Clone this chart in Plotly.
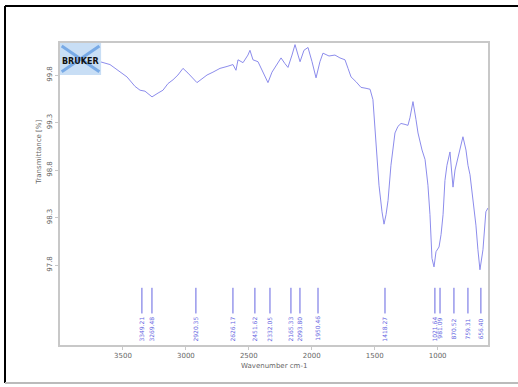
import plotly.graph_objects as go

# IR spectrum (wavenumber in cm-1, transmittance in %)
wavenumber = [3984, 3921, 3801, 3682, 3603, 3539, 3468, 3404, 3364, 3325,
              3269, 3221, 3182, 3142, 3102, 3063, 3023, 2983, 2943, 2912,
              2872, 2832, 2785, 2729, 2673, 2626, 2602, 2586, 2546, 2507,
              2491, 2467, 2427, 2387, 2348, 2316, 2292, 2268, 2244, 2213,
              2189, 2157, 2133, 2109, 2093, 2062, 2030, 1998, 1966, 1935,
              1911, 1863, 1816, 1776, 1736, 1712, 1688, 1649, 1609, 1569,
              1537, 1514, 1490, 1466, 1442, 1426, 1410, 1394, 1371, 1339,
              1315, 1291, 1259, 1236, 1220, 1196, 1172, 1156, 1124, 1100,
              1077, 1061, 1045, 1029, 1013, 989, 973, 957, 942, 926,
              902, 878, 862, 838, 815, 799, 775, 759, 743, 719,
              696, 680, 664, 640, 617, 600]
transmittance = [99.99, 99.99, 99.96, 99.94, 99.91, 99.85, 99.78, 99.68, 99.64, 99.63,
                 99.57, 99.61, 99.64, 99.71, 99.75, 99.80, 99.87, 99.82, 99.76, 99.72,
                 99.76, 99.80, 99.83, 99.87, 99.89, 99.91, 99.85, 99.96, 99.93, 100.01,
                 100.06, 99.96, 99.94, 99.83, 99.72, 99.83, 99.88, 99.94, 99.98, 99.92,
                 99.88, 100.01, 100.12, 100.01, 99.94, 100.06, 100.09, 99.94, 99.77, 99.94,
                 100.03, 100.00, 100.01, 99.98, 99.96, 99.87, 99.78, 99.73, 99.67, 99.66,
                 99.65, 99.54, 99.12, 98.64, 98.36, 98.23, 98.33, 98.48, 98.85, 99.19,
                 99.26, 99.29, 99.28, 99.27, 99.35, 99.52, 99.33, 99.19, 99.01, 98.91,
                 98.64, 98.33, 97.87, 97.78, 97.94, 97.99, 98.12, 98.33, 98.69, 98.85,
                 98.99, 98.62, 98.80, 98.94, 99.06, 99.15, 99.01, 98.85, 98.75, 98.48,
                 98.22, 97.96, 97.75, 97.96, 98.36, 98.40]

# Picked peak positions (cm-1)
peaks = [3349.21, 3269.48, 2920.35, 2626.17, 2451.62, 2332.05, 2165.33, 2093.80,
         1950.46, 1418.27, 1021.64, 981.09, 870.52, 759.31, 656.40]

x_ticks = [3500, 3000, 2500, 2000, 1500, 1000]
y_ticks = [99.8, 99.3, 98.8, 98.3, 97.8]
y_tick_labels = ["99.8", "99.3", "98.8", "98.3", "97.8"]

x_range = [4000, 600]
y_range = [96.958, 100.137]

line_color = "rgb(140,140,236)"
peak_color = "rgb(100,100,225)"
axis_color = "#c8c8c8"
text_color = "#666666"

fig = go.Figure()
fig.add_trace(go.Scatter(x=wavenumber, y=transmittance, mode="lines",
                         line=dict(color=line_color, width=1),
                         hoverinfo="skip", showlegend=False))

# Peak marker lines and their labels
peak_top, peak_bottom, label_y = 97.56, 97.29, 97.13
for p in peaks:
    fig.add_shape(type="line", xref="x", yref="y", x0=p, x1=p,
                  y0=peak_bottom, y1=peak_top,
                  line=dict(color=peak_color, width=1))
    fig.add_annotation(x=p, y=label_y, xref="x", yref="y", text=f"{p:.2f}",
                       showarrow=False, textangle=-90,
                       font=dict(size=6, color=peak_color, family="DejaVu Sans"))

# BRUKER logo block
fig.add_shape(type="rect", xref="paper", yref="paper", x0=0.0, x1=0.096,
              y0=0.894, y1=1.0, fillcolor="rgb(200,222,245)",
              line=dict(width=0), layer="above")
for a, b in [((0.004, 0.99), (0.092, 0.905)), ((0.004, 0.905), (0.092, 0.99))]:
    fig.add_shape(type="line", xref="paper", yref="paper",
                  x0=a[0], y0=a[1], x1=b[0], y1=b[1],
                  line=dict(color="rgb(120,170,230)", width=3), layer="above")
fig.add_annotation(x=0.0, y=0.94, xref="paper", yref="paper", text="<b>BRUKER</b>",
                   showarrow=False, xanchor="left", yanchor="middle",
                   font=dict(size=8, color="#111111", family="DejaVu Sans"))

# Outer frame
fig.add_shape(type="line", xref="paper", yref="paper", x0=-0.1285, x1=-0.1285,
              y0=-0.1258, y1=1.1225, line=dict(color="black", width=2))
fig.add_shape(type="line", xref="paper", yref="paper", x0=-0.1285, x1=1.08,
              y0=1.1225, y1=1.1225, line=dict(color="black", width=2))
fig.add_shape(type="line", xref="paper", yref="paper", x0=-0.1285, x1=1.08,
              y0=-0.1258, y1=-0.1258, line=dict(color="#bbbbbb", width=2))

# Axis titles
fig.add_annotation(x=0.5, y=-0.088, xref="paper", yref="paper",
                   text="Wavenumber cm-1", showarrow=False,
                   font=dict(size=7, color=text_color, family="DejaVu Sans"))
fig.add_annotation(x=-0.065, y=0.637, xref="paper", yref="paper",
                   text="Transmittance [%]", showarrow=False, textangle=-90,
                   font=dict(size=7, color=text_color, family="DejaVu Sans"))

fig.update_xaxes(range=x_range, tickvals=x_ticks, ticks="outside", ticklen=3,
                 tickcolor=axis_color, showgrid=False, zeroline=False,
                 showline=True, linecolor=axis_color, linewidth=1.5, mirror=True,
                 tickfont=dict(size=7, color=text_color, family="DejaVu Sans"))
fig.update_yaxes(range=y_range, tickvals=y_ticks, ticktext=y_tick_labels,
                 ticks="outside", ticklen=3, tickcolor=axis_color,
                 showgrid=False, zeroline=False, showline=True,
                 linecolor=axis_color, linewidth=1.5, mirror=True, tickangle=-90,
                 tickfont=dict(size=7, color=text_color, family="DejaVu Sans"))

fig.update_layout(width=518, height=387,
                  margin=dict(l=60, r=30, t=43, b=42),
                  plot_bgcolor="white", paper_bgcolor="white")

fig.write_html("out.html")
